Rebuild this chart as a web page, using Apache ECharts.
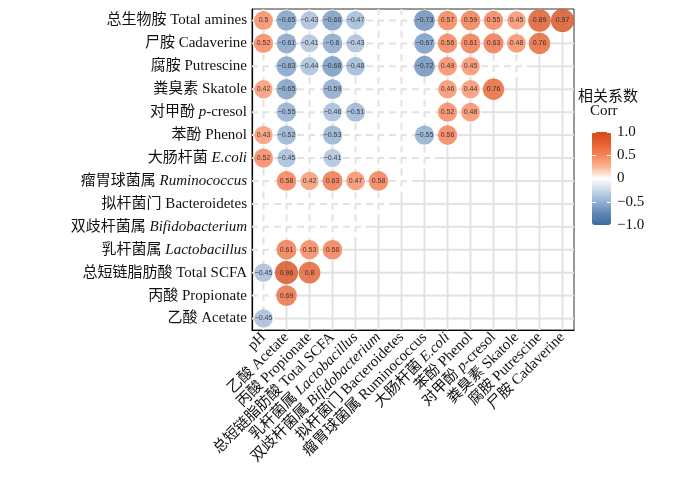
<!DOCTYPE html>
<html>
<head>
<meta charset="utf-8">
<script src="https://cdn.jsdelivr.net/npm/echarts@6/dist/echarts.min.js"></script>
<style>html,body{margin:0;padding:0;background:#fff;}#c{width:700px;height:484px;}</style>
</head>
<body>
<div id="c"></div>
<script>
// Row categories (top to bottom)
const rowNames = ['总生物胺 Total amines','尸胺 Cadaverine','腐胺 Putrescine','粪臭素 Skatole','对甲酚 {i|p}-cresol','苯酚 Phenol','大肠杆菌 {i|E.coli}','瘤胃球菌属 {i|Ruminococcus}','拟杆菌门 Bacteroidetes','双歧杆菌属 {i|Bifidobacterium}','乳杆菌属 {i|Lactobacillus}','总短链脂肪酸 Total SCFA','丙酸 Propionate','乙酸 Acetate'];
// Column categories (left to right)
const colNames = ['pH','乙酸 Acetate','丙酸 Propionate','总短链脂肪酸 Total SCFA','乳杆菌属 {i|Lactobacillus}','双歧杆菌属 {i|Bifidobacterium}','拟杆菌门 Bacteroidetes','瘤胃球菌属 Ruminococcus','大肠杆菌 {i|E.coli}','苯酚 Phenol','对甲酚 {i|p}-cresol','粪臭素 Skatole','腐胺 Putrescine','尸胺 Cadaverine'];
// Significant correlation values per row (null = not shown)
const corrValues = [
  [0.5,-0.65,-0.43,-0.66,-0.47,null,null,-0.73,0.57,0.59,0.55,0.45,0.89,0.97],
  [0.52,-0.61,-0.41,-0.6,-0.43,null,null,-0.67,0.56,0.61,0.63,0.48,0.76],
  [null,-0.63,-0.44,-0.68,-0.48,null,null,-0.72,0.49,0.45,null,null],
  [0.42,-0.65,null,-0.59,null,null,null,null,0.46,0.44,0.76],
  [null,-0.55,null,-0.46,-0.51,null,null,null,0.52,0.48],
  [0.43,-0.52,null,-0.53,null,null,null,-0.55,0.56],
  [0.52,-0.45,null,-0.41,null,null,null,null],
  [null,0.58,0.42,0.63,0.47,0.58,null],
  [null,null,null,null,null,null],
  [null,null,null,null,null],
  [null,0.61,0.53,0.58],
  [-0.45,0.96,0.8],
  [null,0.69],
  [-0.45]
];
const legendTicks = {'1':'1.0','0.5':'0.5','0':'0','-0.5':'−0.5','-1':'−1.0'};

const FONT = "'Liberation Serif','Noto Sans CJK SC',serif";
const n = colNames.length;
const cellData = [];
const pointData = [];
for (let i = 0; i < rowNames.length; i++) {
  for (let j = 0; j < n; j++) {
    const tri = j <= (n - 1 - i) ? 1 : 0;
    cellData.push([j, i, tri]);
    const row = corrValues[i];
    if (j < row.length && row[j] !== null) pointData.push([j, i, row[j]]);
  }
}
const fmt = v => String(v).replace('-', '−');

const chart = echarts.init(document.getElementById('c'), null, {renderer:'canvas'});
chart.setOption({
  animation: false,
  backgroundColor: '#fff',
  textStyle: {fontFamily: FONT},
  grid: [
    {left: 252, top: 9, width: 322, height: 321, show: true, borderColor: '#333', borderWidth: 1, backgroundColor: 'transparent'},
    {left: 592, top: 132, width: 19, height: 93}
  ],
  xAxis: [
    {type: 'category', gridIndex: 0, data: colNames, position: 'bottom',
     axisLine: {lineStyle: {color: '#000', width: 1.2}},
     axisTick: {alignWithLabel: true, length: 4, lineStyle: {color: '#000'}},
     axisLabel: {rotate: 45, fontSize: 15, margin: 5, color: '#111', fontFamily: FONT, interval: 0,
       rich: {i: {fontStyle: 'italic', fontSize: 15, fontFamily: FONT, color: '#111'}}},
     splitLine: {show: false}},
    {type: 'category', gridIndex: 1, data: ['c'], show: false}
  ],
  yAxis: [
    {type: 'category', gridIndex: 0, data: rowNames, inverse: true,
     axisLine: {lineStyle: {color: '#000', width: 1.2}},
     axisTick: {alignWithLabel: true, length: 4, lineStyle: {color: '#000'}},
     axisLabel: {fontSize: 15, margin: 5, color: '#111', fontFamily: FONT, interval: 0,
       rich: {i: {fontStyle: 'italic', fontSize: 15, fontFamily: FONT, color: '#111'}}},
     splitLine: {show: false}},
    {type: 'value', gridIndex: 1, min: -1, max: 1, interval: 0.5, position: 'right', z: 10,
     axisLine: {show: false},
     axisTick: {show: true, inside: true, length: 4, lineStyle: {color: '#fff', width: 1}},
     axisLabel: {show: true, margin: 6, fontSize: 15, color: '#111', fontFamily: FONT,
       formatter: v => legendTicks[String(v)] ?? String(v)},
     splitLine: {show: false}},
    {type: 'value', gridIndex: 1, min: -1, max: 1, interval: 0.5, position: 'left', z: 10,
     axisLine: {show: false},
     axisTick: {show: true, inside: true, length: 4, lineStyle: {color: '#fff', width: 1}},
     axisLabel: {show: false}, splitLine: {show: false}}
  ],
  visualMap: {
    type: 'continuous', min: -1, max: 1, seriesIndex: 1, dimension: 2,
    calculable: false, padding: 0, left: 592, top: 132, itemWidth: 19, itemHeight: 93,
    text: null, showLabel: false, hoverLink: false,
    inRange: {color: ['#3d6b9a','#5f87b5','#95b1d3','#cbd9ea','#ffffff','#fbb596','#f7845a','#e6602f','#d4491a']}
  },
  graphic: [
    {type: 'text', left: 578, top: 88, style: {text: '相关系数', font: "15px 'Noto Sans CJK SC'", fill: '#111'}},
    {type: 'text', left: 590, top: 104, style: {text: 'Corr', font: "15px 'Liberation Serif'", fill: '#111'}}
  ],
  series: [
    {type: 'custom', xAxisIndex: 0, yAxisIndex: 0, silent: true, z: 1, data: cellData,
     renderItem: function (params, api) {
       const j = api.value(0), i = api.value(1), tri = api.value(2);
       const c = api.coord([j, i]);
       const s = api.size([1, 1]);
       const style = {stroke: '#e2e2e2', lineWidth: 2, lineDash: tri ? [6, 5] : null, fill: null};
       return {type: 'group', children: [
         {type: 'line', shape: {x1: c[0] - s[0] / 2, y1: c[1], x2: c[0] + s[0] / 2, y2: c[1]}, style: style},
         {type: 'line', shape: {x1: c[0], y1: c[1] - s[1] / 2, x2: c[0], y2: c[1] + s[1] / 2}, style: style}
       ]};
     }},
    {type: 'scatter', xAxisIndex: 0, yAxisIndex: 0, z: 3, data: pointData,
     symbolSize: v => 14.5 + 9 * Math.abs(v[2]),
     label: {show: true, position: 'inside', formatter: p => fmt(p.value[2]), fontSize: 7, color: '#1a1a1a', fontFamily: "'Liberation Sans',sans-serif"}},
    {type: 'scatter', xAxisIndex: 1, yAxisIndex: 1, data: []}
  ]
});
</script>
</body>
</html>
